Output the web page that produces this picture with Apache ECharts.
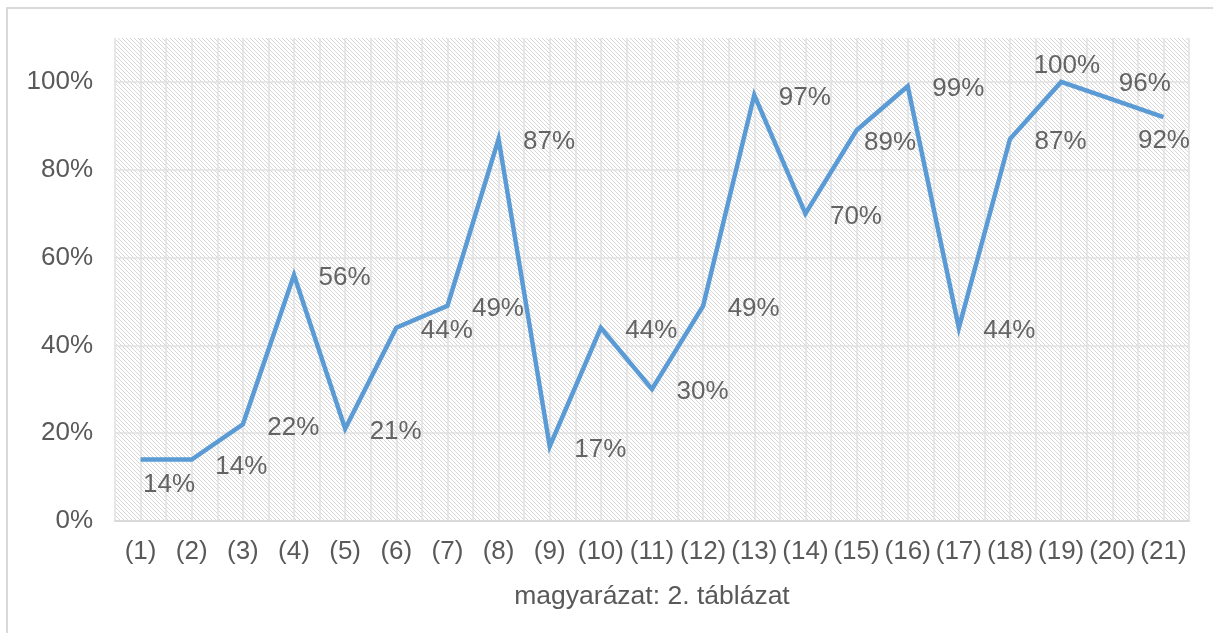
<!DOCTYPE html>
<html>
<head>
<meta charset="utf-8">
<script src="https://cdn.jsdelivr.net/npm/echarts@6/dist/echarts.min.js"></script>
<style>html,body{margin:0;padding:0;background:#fff}#c{width:1213px;height:633px}</style>
</head>
<body>
<div id="c"></div>
<script>
const categories = ['(1)','(2)','(3)','(4)','(5)','(6)','(7)','(8)','(9)','(10)','(11)','(12)','(13)','(14)','(15)','(16)','(17)','(18)','(19)','(20)','(21)'];
const values = [14, 14, 22, 56, 21, 44, 49, 87, 17, 44, 30, 49, 97, 70, 89, 99, 44, 87, 100, 96, 92];
const yTicks = [0, 20, 40, 60, 80, 100];
const axisTitle = 'magyarázat: 2. táblázat';

// label nudges (styling only), keyed by point index
const labelNudge = {0: [-22, 24], 1: [-1, 6], 14: [-17, 12], 18: [-52, -17], 19: [-18, -17], 20: [-50, 23]};

// hatch pattern
const tile = document.createElement('canvas');
tile.width = 4; tile.height = 4;
const tctx = tile.getContext('2d');
tctx.fillStyle = '#ffffff'; tctx.fillRect(0, 0, 4, 4);
for (let i = 0; i < 4; i++) {
  tctx.fillStyle = '#d6d6d6'; tctx.fillRect(i, i, 1, 1);
}

const font = 'Liberation Sans, Arial, sans-serif';
const txt = '#595959';
const chart = echarts.init(document.getElementById('c'), null, {renderer: 'canvas'});
chart.setOption({
  animation: false,
  backgroundColor: '#fff',
  graphic: [{type: 'polyline', shape: {points: [[7, 640], [7, 8], [1220, 8]]}, style: {stroke: '#d9d9d9', lineWidth: 2, fill: null}, z: 0}],
  grid: {left: 115, right: 24, top: 38, bottom: 112, show: true, borderWidth: 0,
         backgroundColor: {image: tile, repeat: 'repeat'}},
  xAxis: [{
    type: 'category', data: categories, boundaryGap: true,
    axisLine: {lineStyle: {color: '#d9d9d9', width: 2}},
    axisTick: {show: false},
    splitLine: {show: false},
    axisLabel: {color: txt, fontSize: 26, fontFamily: font, margin: 18, interval: 0},
    name: axisTitle, nameLocation: 'middle', nameGap: 62,
    nameTextStyle: {color: txt, fontSize: 26.5, fontFamily: font}
  }, {
    type: 'value', min: 0, max: 42, interval: 1, position: 'bottom',
    axisLine: {show: false}, axisTick: {show: false}, axisLabel: {show: false},
    splitLine: {show: true, lineStyle: {color: '#e0e0e0', width: 1.5}}
  }],
  yAxis: {
    type: 'value', min: 0, max: 110, interval: 20,
    axisLine: {show: false}, axisTick: {show: false},
    splitLine: {show: true, showMaxLine: false, lineStyle: {color: '#e0e0e0', width: 1.5}},
    axisLabel: {color: txt, fontSize: 26, fontFamily: font, margin: 22, showMaxLabel: false,
      formatter: v => (yTicks.indexOf(v) >= 0 ? v + '%' : '')}
  },
  series: [{
    type: 'line', xAxisIndex: 0,
    data: values,
    symbol: 'none',
    lineStyle: {color: '#5B9BD5', width: 4.5, join: 'miter'},
    itemStyle: {color: '#5B9BD5'},
    z: 5
  }, {
    type: 'scatter', xAxisIndex: 0,
    data: values,
    symbolSize: 1,
    itemStyle: {color: 'rgba(0,0,0,0)'},
    label: {show: true, position: 'right', distance: 24,
      color: '#404040', fontSize: 26, fontFamily: font, formatter: p => p.value + '%'},
    labelLayout: function (p) {
      const n = labelNudge[p.dataIndex] || [0, 2];
      return {dx: n[0], dy: n[1] + 1, hideOverlap: false};
    },
    z: 6
  }]
});
</script>
</body>
</html>
